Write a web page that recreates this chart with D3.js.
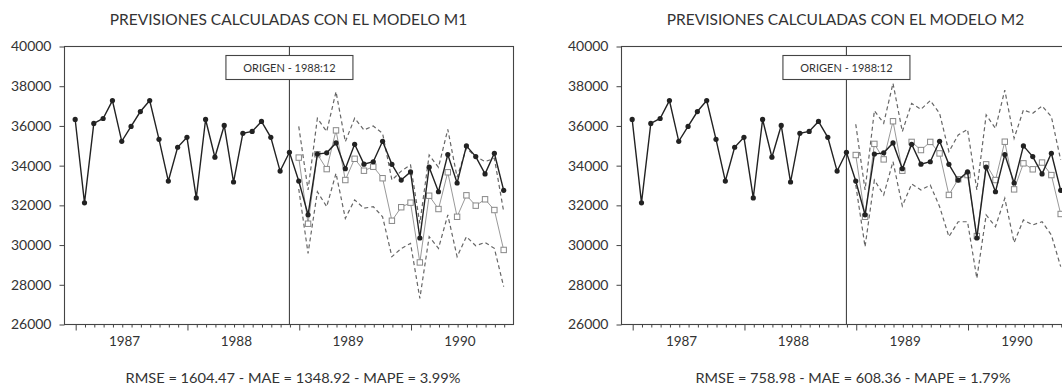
<!DOCTYPE html>
<html>
<head>
<meta charset="utf-8">
<script src="https://cdn.jsdelivr.net/npm/d3@7"></script>
<style>
  html, body { margin: 0; padding: 0; background: #ffffff; }
  svg { display: block; }
  text { font-family: Lato, "Open Sans", sans-serif; fill: #333; }
</style>
</head>
<body>
<svg id="chart" width="1062" height="389"></svg>
<script>
// ---------- DATA ----------
const years = [1987, 1988, 1989, 1990];
const nPeriods = 47;               // 1987:01 .. 1990:11
const originIndex = 23;            // 1988:12
const originLabel = "ORIGEN - 1988:12";
const yTicks = [26000, 28000, 30000, 32000, 34000, 36000, 38000, 40000];

// observed series 1987:01 .. 1990:11
const actual = [36300, 32100, 36100, 36350, 37250, 35200, 35950, 36700, 37250, 35300, 33200, 34900,
                35400, 32350, 36300, 34400, 36000, 33150, 35600, 35700, 36200, 35400, 33700, 34650,
                33200, 31500, 34560, 34620, 35120, 33820, 35050, 34050, 34170, 35200, 34040, 33250,
                33660, 30330, 33900, 32660, 34530, 33100, 34970, 34430, 33560, 34600, 32730];

// forecasts 1989:01 .. 1990:11
const m1Forecast = [34380, 31050, 34550, 33800, 35750, 33250, 34320, 33720, 33920, 33340, 31200, 31880,
                    32110, 29100, 32460, 31790, 33640, 31400, 32480, 31960, 32280, 31740, 29730];
const m1Upper    = [35950, 32750, 36360, 35690, 37700, 35180, 36360, 35770, 35970, 35600, 33250, 33700,
                    34010, 31070, 34510, 33890, 35800, 33390, 34850, 34430, 34180, 34340, 31660];
const m1Lower    = [32800, 29560, 32660, 31910, 33590, 31320, 32250, 31830, 31910, 31400, 29390, 29800,
                    30060, 27290, 30400, 29810, 31490, 29390, 30400, 29940, 30110, 29810, 27880];

const m2Forecast = [34510, 31400, 35070, 34290, 36210, 33720, 35170, 34760, 35170, 34590, 32500, 33290,
                    33500, 30430, 34040, 33250, 35180, 32780, 34090, 33790, 34130, 33500, 31540];
const m2Upper    = [36060, 32750, 36740, 36110, 38120, 35690, 37110, 36810, 37250, 36610, 34680, 35520,
                    35800, 32750, 36530, 35850, 37780, 35350, 36780, 36610, 36980, 36440, 34260];
const m2Lower    = [33000, 29890, 33250, 32500, 34180, 31940, 33050, 32750, 33000, 31910, 30400, 31150,
                    31150, 28300, 31490, 30900, 32330, 30100, 31240, 30990, 31150, 30480, 28890];

const titles = ["PREVISIONES CALCULADAS CON EL MODELO M1", "PREVISIONES CALCULADAS CON EL MODELO M2"];
const footers = ["RMSE = 1604.47 - MAE = 1348.92 - MAPE = 3.99%", "RMSE = 758.98 - MAE = 608.36 - MAPE = 1.79%"];

// ---------- LAYOUT ----------
const svg = d3.select("#chart");
const plotTop = 46, plotBottom = 324, plotW = 449;
const panels = [
  { x0: 64,  forecast: m1Forecast, upper: m1Upper, lower: m1Lower, title: titles[0], footer: footers[0], fcx: 293, fw: 335 },
  { x0: 621, forecast: m2Forecast, upper: m2Upper, lower: m2Lower, title: titles[1], footer: footers[1], fcx: 853, fw: 315 }
];

const y = d3.scaleLinear().domain([26000, 40000]).range([plotBottom, plotTop]);
const fcIdx = d3.range(originIndex + 1, nPeriods);

panels.forEach(p => {
  const x = d3.scaleLinear().domain([-1.2, 47]).range([p.x0, p.x0 + plotW]);
  const g = svg.append("g");

  // title
  g.append("text").attr("x", p.x0 + plotW / 2).attr("y", 25)
    .attr("text-anchor", "middle").style("font-size", "15.5px").text(p.title);

  // frame
  g.append("rect").attr("x", p.x0 + 0.5).attr("y", plotTop + 0.5)
    .attr("width", plotW).attr("height", plotBottom - plotTop)
    .attr("fill", "none").attr("stroke", "#444").attr("stroke-width", 1.1);

  // y axis
  const ya = g.append("g").attr("transform", `translate(${p.x0 + 0.5},0.5)`)
    .call(d3.axisLeft(y).tickValues(yTicks).tickFormat(d3.format("d")).tickSize(5).tickPadding(8));
  ya.select(".domain").remove();
  ya.selectAll("line").attr("stroke", "#444");
  ya.selectAll("text").style("font-size", "14px").attr("fill", "#333");

  // x axis ticks (monthly, longer at January)
  const xa = g.append("g").attr("transform", `translate(0.5,${plotBottom + 0.5})`)
    .call(d3.axisBottom(x).tickValues(d3.range(0, nPeriods)).tickFormat("").tickSize(3).tickSizeOuter(0));
  xa.select(".domain").remove();
  xa.selectAll(".tick line").attr("stroke", "#444")
    .attr("y2", d => d % 12 === 0 ? 6 : 3);
  g.selectAll(".yearlab").data(years).join("text")
    .attr("x", (d, i) => x(i * 12 + 5.3)).attr("y", 346)
    .attr("text-anchor", "middle").style("font-size", "13.5px").text(d => d);

  // origin line
  g.append("line").attr("x1", x(originIndex)).attr("x2", x(originIndex))
    .attr("y1", plotTop).attr("y2", plotBottom).attr("stroke", "#444").attr("stroke-width", 1.1);

  // bounds
  const lineFc = arr => d3.line().x((d, i) => x(fcIdx[i])).y(d => y(d))(arr);
  [p.upper, p.lower].forEach(b => {
    g.append("path").attr("d", lineFc(b)).attr("fill", "none")
      .attr("stroke", "#666").attr("stroke-width", 1.2).attr("stroke-dasharray", "4,3");
  });

  // forecast
  g.append("path").attr("d", lineFc(p.forecast)).attr("fill", "none")
    .attr("stroke", "#999").attr("stroke-width", 1);
  g.selectAll(".sq").data(p.forecast).join("rect")
    .attr("x", (d, i) => x(fcIdx[i]) - 2.7).attr("y", d => y(d) - 2.7)
    .attr("width", 5.4).attr("height", 5.4)
    .attr("fill", "#fff").attr("stroke", "#888").attr("stroke-width", 1);

  // actual
  g.append("path").attr("d", d3.line().x((d, i) => x(i)).y(d => y(d))(actual))
    .attr("fill", "none").attr("stroke", "#222").attr("stroke-width", 1.4);
  g.selectAll(".dot").data(actual).join("circle")
    .attr("cx", (d, i) => x(i)).attr("cy", d => y(d)).attr("r", 2.6).attr("fill", "#222");

  // origin box
  const bw = 127, bh = 24;
  g.append("rect").attr("x", x(originIndex) - bw / 2).attr("y", 55.5)
    .attr("width", bw).attr("height", bh)
    .attr("fill", "#fff").attr("stroke", "#444").attr("stroke-width", 1.1);
  g.append("text").attr("x", x(originIndex)).attr("y", 71.5)
    .attr("text-anchor", "middle").style("font-size", "11px").text(originLabel);

  // footer
  g.append("text").attr("x", p.fcx).attr("y", 383).attr("text-anchor", "middle")
    .attr("textLength", p.fw).attr("lengthAdjust", "spacingAndGlyphs")
    .style("font-size", "13px").text(p.footer);
});
</script>
</body>
</html>
